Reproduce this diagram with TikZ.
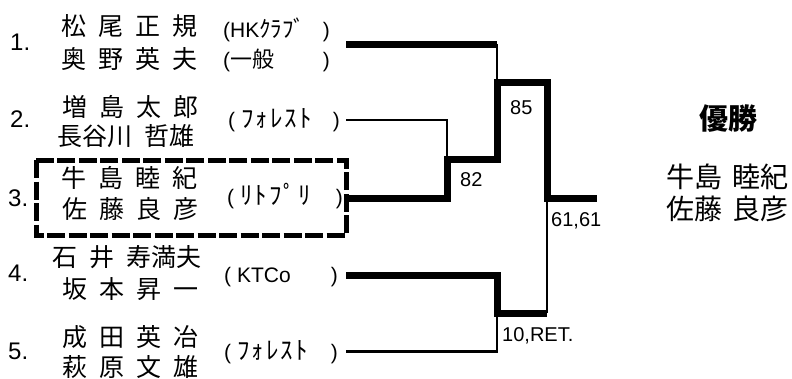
\documentclass[tikz,border=0pt]{standalone}
\usepackage{fontspec}
\setmainfont{Liberation Sans}
\newfontfamily\jp{Noto Sans CJK JP}
\newfontfamily\jpk[LetterSpace=8]{Noto Sans CJK JP}
\newcommand\js{\hspace{12pt}}
\newcommand\jw{\hspace{10pt}}
\newcommand\kana[1]{{\jpk\fontsize{25}{25}\selectfont #1}}
\begin{document}
\begin{tikzpicture}[x=1pt,y=-1pt,
  pname/.style={anchor=west,inner sep=0pt,font=\jp\fontsize{25}{25}\selectfont},
  numlbl/.style={anchor=west,inner sep=0pt,font=\fontsize{24}{24}\selectfont},
  club/.style={anchor=base west,inner sep=0pt,font=\fontsize{21}{21}\selectfont},
  clubr/.style={anchor=base east,inner sep=0pt,font=\fontsize{21}{21}\selectfont},
  scorelbl/.style={anchor=west,inner sep=0pt,font=\fontsize{20}{20}\selectfont},
  winlbl/.style={anchor=west,inner sep=0pt,font=\jp\fontsize{28}{28}\selectfont},
  thk/.style={line width=7pt,line join=miter},
  thn/.style={line width=2.5pt}]
\useasboundingbox (0,0) rectangle (792,378);
\fill[white] (0,0) rectangle (792,378);

% numbers
\node[numlbl] (n1) at (10,42) {1.};
\node[numlbl] (n2) at (10,119) {2.};
\node[numlbl] (n3) at (8,198) {3.};
\node[numlbl] (n4) at (8,273) {4.};
\node[numlbl] (n5) at (8,351) {5.};

% names
\node[pname] (a1) at (61,26) {松\js 尾\js 正\js 規};
\node[pname] (b1) at (61,59) {奥\js 野\js 英\js 夫};
\node[pname] (a2) at (62,107) {増\js 島\js 太\js 郎};
\node[pname] (b2) at (57,136) {長谷川\js 哲雄};
\node[pname] (a3) at (61,178) {牛\js 島\js 睦\js 紀};
\node[pname] (b3) at (62,209) {佐\js 藤\js 良\js 彦};
\node[pname] (a4) at (52,257) {石\js 井\js 寿満夫};
\node[pname] (b4) at (62,289) {坂\js 本\js 昇\js 一};
\node[pname] (a5) at (62,337) {成\js 田\js 英\js 冶};
\node[pname] (b5) at (62,367) {萩\js 原\js 文\js 雄};

% clubs (baselines)
\node[club] (c1) at (223,37) {(HK{\jp\fontsize{23}{23}\selectfont ｸﾗﾌﾞ}};
\node[clubr] (c1r) at (330,37) {)};
\node[club] (d1) at (223,67) {({\jp\fontsize{22}{22}\selectfont 一般}};
\node[clubr] (d1r) at (330,67) {)};
\node[club] (c2) at (228,127) {( \kana{ﾌｫﾚｽﾄ}};
\node[clubr] (c2r) at (340,127) {)};
\node[club] (c3) at (227,204) {( \kana{ﾘﾄﾌﾟﾘ}};
\node[clubr] (c3r) at (343,204) {)};
\node[club] (c4) at (224,282) {( KTCo};
\node[clubr] (c4r) at (338,282) {)};
\node[club] (c5) at (224,359) {( \kana{ﾌｫﾚｽﾄ}};
\node[clubr] (c5r) at (338,359) {)};

% winner box
\draw[line width=5pt,dash pattern=on 18pt off 3.5pt] (36,160) rectangle (346,235);

% bracket coordinates
\coordinate (s1) at (346,44);
\coordinate (s2) at (346,120);
\coordinate (s3) at (346,198);
\coordinate (s4) at (346,275);
\coordinate (s5) at (346,351.5);
\coordinate (j23) at (447,159);
\coordinate (j1) at (497,82);
\coordinate (f1) at (547,82);
\coordinate (j45) at (497,313);
\coordinate (f2) at (547,313);
\coordinate (ch) at (547,198);
\coordinate (endp) at (597,198);

% lines
\draw[thk] (s1) -- (s1 -| j1);
\draw[thn] (s1 -| j1) -- (j1);
\draw[thn] (s2) -- (s2 -| j23) -- (j23);
\draw[thk] (s3) -- (s3 -| j23) -- (j23) -- (j23 -| j1) -- (j1) -- (f1) -- (ch) -- (endp);
\draw[thk] (s4) -- (s4 -| j45) -- (j45) -- (f2);
\draw[thn] (f2) -- (ch);
\draw[thn] (s5) -- (s5 -| j45) -- (j45);

% scores
\node[scorelbl] (sc85) at (510,107.5) {85};
\node[scorelbl] (sc82) at (460,180) {82};
\node[scorelbl] (sc61) at (551,221) {61,61};
\node[scorelbl] (sc10) at (502,336) {10,RET.};

% champion
\node[inner sep=0pt,font=\jp\bfseries\fontsize{29}{29}\selectfont] (yu) at (728,118.5) {優勝};
\node[winlbl] (w1) at (666,177) {牛島\jw 睦紀};
\node[winlbl] (w2) at (666,209) {佐藤\jw 良彦};
\end{tikzpicture}
\end{document}
